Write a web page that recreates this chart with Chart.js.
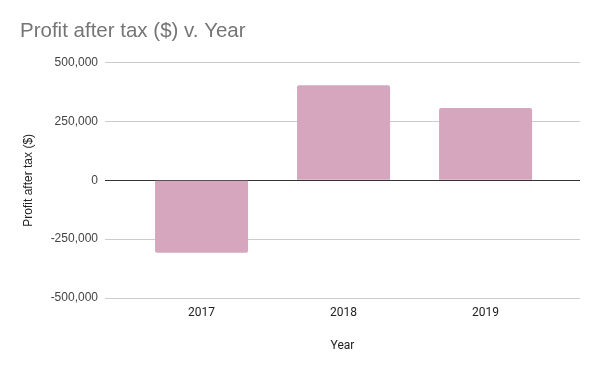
<!DOCTYPE html>
<html>
<head>
<meta charset="utf-8">
<script src="https://cdn.jsdelivr.net/npm/chart.js@4/dist/chart.umd.min.js"></script>
<style>
    html, body { margin: 0; padding: 0; background: #fff; }
    #wrap { width: 600px; height: 371px; }
</style>
</head>
<body>
<div id="wrap"><canvas id="profit_chart"></canvas></div>
<script>
// data
const years = ['2017', '2018', '2019'];
const profit = [-308000, 404000, 307000];
const y_ticks = [-500000, -250000, 0, 250000, 500000];

let colors = {
    'bar': '#d5a6bd',
    'grid': '#cccccc',
    'zero': '#333333',
    'title': '#757575',
    'tick': '#444444',
    'label': '#222222',
}

const profit_chart = document.getElementById('profit_chart');

new Chart(profit_chart, {
    type: 'bar',
    data: {
        labels: years,
        datasets: [{
            label: 'Profit after tax ($)',
            data: profit,
            backgroundColor: colors.bar,
            borderRadius: 2,
            barPercentage: 0.655,
            categoryPercentage: 1,
        }]
    },
    options: {
        responsive: true,
        maintainAspectRatio: false,
        animation: false,
        layout: {
            padding: { left: 20, right: 20, top: 0, bottom: 0 }
        },
        plugins: {
            legend: { display: false },
            tooltip: { enabled: false },
            title: {
                display: true,
                text: 'Profit after tax ($) v. Year',
                align: 'start',
                color: colors.title,
                font: { family: 'Liberation Sans', size: 20.5, weight: 'normal' },
                padding: { top: 19, bottom: 19 },
            }
        },
        scales: {
            x: {
                grid: { display: false, drawTicks: false },
                border: { display: false },
                ticks: {
                    color: colors.label,
                    padding: 8,
                    font: { family: 'Roboto', size: 12 },
                },
                title: {
                    display: true,
                    text: 'Year',
                    color: colors.label,
                    font: { family: 'Roboto', size: 12 },
                    padding: { top: 0, bottom: 18 },
                },
                // google sheets leaves extra room on the sides of the category band
                afterBuildTicks: (scale) => {
                    scale._startValue = -0.68;
                    scale._valueRange = 3.345;
                },
                afterFit: (scale) => { scale.height = 73; },
            },
            y: {
                min: -500000,
                max: 500000,
                afterBuildTicks: (scale) => {
                    scale.ticks = y_ticks.map(v => ({ value: v }));
                },
                grid: {
                    drawTicks: false,
                    color: (ctx) => ctx.tick && ctx.tick.value === 0 ? colors.zero : colors.grid,
                },
                border: { display: false },
                ticks: {
                    color: colors.tick,
                    padding: 7,
                    font: { family: 'Liberation Sans', size: 12 },
                    callback: (v) => v.toLocaleString('en-US'),
                },
                title: {
                    display: true,
                    text: 'Profit after tax ($)',
                    color: colors.label,
                    font: { family: 'Liberation Sans', size: 12 },
                    padding: { top: 1, bottom: 0 },
                },
                afterFit: (scale) => { scale.width = 85; },
            }
        }
    }
});
</script>
</body>
</html>
